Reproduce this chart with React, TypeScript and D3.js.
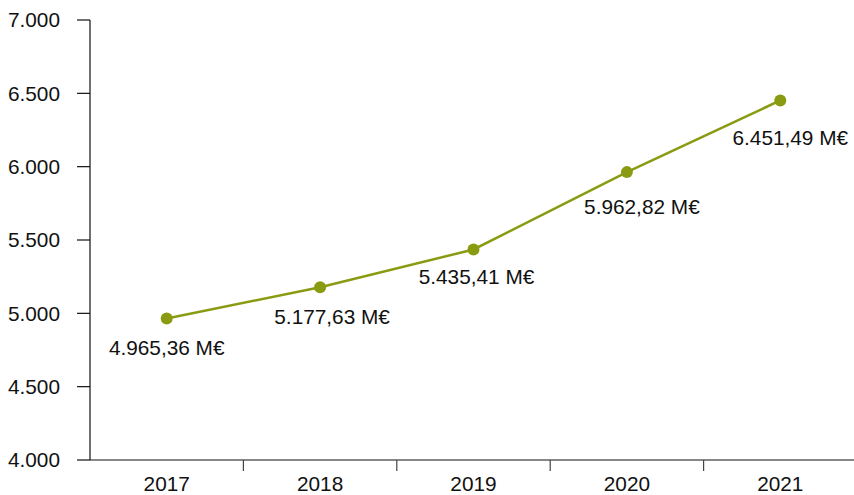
import React from "react";
import * as d3 from "d3";

const years = ["2017", "2018", "2019", "2020", "2021"];
const values = [4965.36, 5177.63, 5435.41, 5962.82, 6451.49];
const valueLabels = ["4.965,36 M€", "5.177,63 M€", "5.435,41 M€", "5.962,82 M€", "6.451,49 M€"];
const yTicks = [4000, 4500, 5000, 5500, 6000, 6500, 7000];
const yTickLabels = ["4.000", "4.500", "5.000", "5.500", "6.000", "6.500", "7.000"];
// label placement offsets (layout only)
const labelDx = [0, 12, 3, 15, 10];
const labelDy = [37, 37, 35, 42, 45];

const W = 854;
const H = 495;
const COLOR = "#8a9b12";
const FONT = "'Liberation Sans', Arial, Helvetica, sans-serif";
const FS = 20.8;

export default function App() {
  const x = d3.scaleBand<string>().domain(years).range([90, 857]).padding(0);
  const y = d3.scaleLinear().domain([4000, 7000]).range([460, 20]);
  const cx = (i: number) => (x(years[i]) as number) + x.bandwidth() / 2;
  const line = d3
    .line<number>()
    .x((_, i) => cx(i))
    .y((d) => y(d));
  const bounds = years.slice(1).map((yr) => x(yr) as number);

  return (
    <svg width={W} height={H} style={{ position: "absolute", left: 0, top: 0, background: "#fff" }}>
      {/* y axis */}
      <line x1={90} x2={90} y1={y(7000)} y2={y(4000)} stroke="#111" strokeWidth={1.2} />
      {yTicks.map((t, i) => (
        <g key={t}>
          <line x1={77} x2={90} y1={y(t)} y2={y(t)} stroke="#111" strokeWidth={1.2} />
          <text x={60} y={y(t)} dy="0.36em" textAnchor="end" fontFamily={FONT} fontSize={FS} fill="#111">
            {yTickLabels[i]}
          </text>
        </g>
      ))}
      {/* x axis */}
      <line x1={90} x2={W} y1={460} y2={460} stroke="#111" strokeWidth={1.2} />
      {bounds.map((b, i) => (
        <line key={i} x1={b} x2={b} y1={460} y2={471} stroke="#444" strokeWidth={1.2} />
      ))}
      {years.map((yr, i) => (
        <text key={yr} x={cx(i)} y={491} textAnchor="middle" fontFamily={FONT} fontSize={FS} fill="#111">
          {yr}
        </text>
      ))}
      {/* line */}
      <path d={line(values) || ""} fill="none" stroke={COLOR} strokeWidth={2.5} />
      {values.map((v, i) => (
        <circle key={i} cx={cx(i)} cy={y(v)} r={6} fill={COLOR} />
      ))}
      {values.map((v, i) => (
        <text
          key={"l" + i}
          x={cx(i) + labelDx[i]}
          y={y(v) + labelDy[i]}
          textAnchor="middle"
          fontFamily={FONT}
          fontSize={FS}
          fill="#111"
        >
          {valueLabels[i]}
        </text>
      ))}
    </svg>
  );
}
